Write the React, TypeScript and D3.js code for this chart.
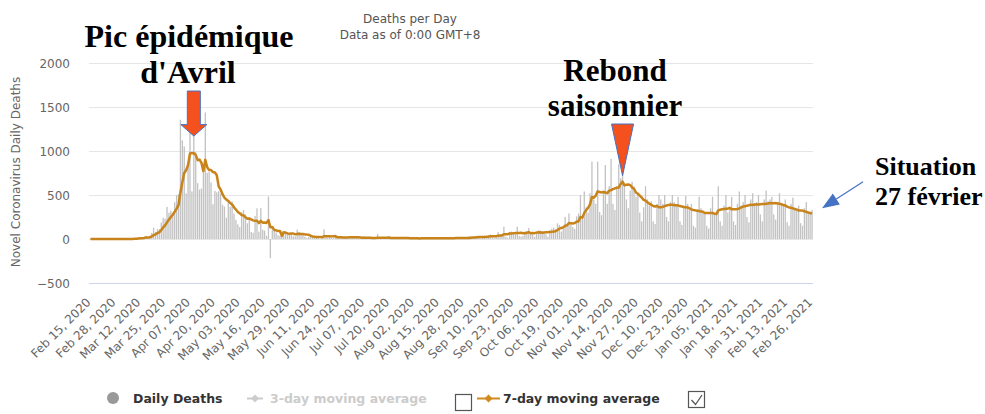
import React from "react";
import * as d3 from "d3";

// Daily deaths, Feb 15 2020 -> Feb 26 2021 (one value per day)
const feb2020 = [1, 0, 0, 0, 0, 0, 0, 0, 0, 0, 0, 1, 0, 0, 0];
const mar2020 = [0, 1, 0, 1, 0, 2, 0, 3, 9, 11, 15, 13, 18, 12, 36, 21, 27, 69, 128, 78, 112, 112, 186, 240, 231, 365, 299, 319, 292, 418, 499];
const apr2020 = [509, 1355, 1120, 1053, 518, 833, 1417, 541, 1341, 987, 635, 561, 574, 762, 1438, 753, 761, 642, 395, 547, 531, 544, 516, 389, 369, 242, 437, 367, 427, 289];
const may2020 = [218, 166, 135, 306, 330, 278, 178, 243, 80, 70, 263, 348, 83, 351, 104, 96, 35, 483, -217, 110, 110, 74, 43, 35, 90, 83, 66, 52, 52, 57, 31];
const jun2020 = [31, 107, 81, 44, 46, 27, 13, 24, 23, 27, 28, 25, 24, 0, 10, 111, 28, 14, 31, 15, 10, 21, 11, 29, 20, 11, 12, 21, 30, 24];
const jul2020 = [18, 14, 16, 25, 0, 0, 32, 14, 13, 25, 0, 0, 0, 57, 7, 18, 14, 0, 0, 28, 14, 13, 20, 14, 0, 0, 25, 14, 16, 11, 0];
const aug2020 = [0, 0, 15, 10, 12, 13, 0, 0, 0, 17, 14, 16, 16, 0, 0, 0, 20, 17, 16, 15, 0, 0, 0, 25, 15, 19, 20, 0, 0, 0, 35];
const sep2020 = [30, 27, 31, 25, 12, 8, 25, 40, 33, 45, 51, 17, 10, 30, 80, 46, 52, 140, 26, 12, 81, 85, 52, 78, 140, 36, 28, 36, 85, 90];
const oct2020 = [125, 58, 49, 24, 80, 100, 95, 90, 85, 54, 26, 100, 117, 130, 110, 178, 160, 85, 146, 250, 163, 290, 165, 137, 116, 257, 290, 500, 235, 540, 360];
const nov2020 = [300, 520, 880, 450, 400, 880, 306, 271, 551, 840, 400, 600, 910, 400, 330, 600, 850, 690, 780, 620, 450, 350, 550, 650, 600, 480, 520, 300, 200, 360];
const dec2020 = [600, 450, 380, 430, 200, 170, 400, 500, 450, 400, 500, 250, 200, 420, 500, 420, 400, 480, 200, 160, 380, 490, 400, 330, 400, 150, 130, 340, 480, 350, 320];
const jan2021 = [300, 150, 120, 350, 480, 300, 280, 600, 200, 150, 380, 500, 300, 350, 480, 200, 160, 400, 540, 380, 420, 500, 250, 190, 450, 520, 410, 420, 500, 280, 200];
const feb2021 = [450, 550, 430, 450, 480, 280, 220, 420, 520, 400, 380, 450, 190, 150, 400, 470, 350, 330, 380, 180, 150, 350, 420, 300, 290, 330];

const dailyDeaths = [
  ...feb2020, ...mar2020, ...apr2020, ...may2020, ...jun2020, ...jul2020,
  ...aug2020, ...sep2020, ...oct2020, ...nov2020, ...dec2020, ...jan2021, ...feb2021,
];

const yTicks = [-500, 0, 500, 1000, 1500, 2000];
const tickLabels = [
  "Feb 15, 2020", "Feb 28, 2020", "Mar 12, 2020", "Mar 25, 2020", "Apr 07, 2020", "Apr 20, 2020",
  "May 03, 2020", "May 16, 2020", "May 29, 2020", "Jun 11, 2020", "Jun 24, 2020", "Jul 07, 2020",
  "Jul 20, 2020", "Aug 02, 2020", "Aug 15, 2020", "Aug 28, 2020", "Sep 10, 2020", "Sep 23, 2020",
  "Oct 06, 2020", "Oct 19, 2020", "Nov 01, 2020", "Nov 14, 2020", "Nov 27, 2020", "Dec 10, 2020",
  "Dec 23, 2020", "Jan 05, 2021", "Jan 18, 2021", "Jan 31, 2021", "Feb 13, 2021", "Feb 26, 2021",
];
const tickStepDays = 13;

const SANS = "'DejaVu Sans', Verdana, sans-serif";
const SERIF = "'Liberation Serif', 'Times New Roman', serif";

export default function App() {
  const W = 985;
  const H = 414;
  const start = new Date(2020, 1, 15);
  const dates = dailyDeaths.map((_, i) => d3.timeDay.offset(start, i));
  const x = d3
    .scaleTime()
    .domain([d3.timeHour.offset(start, -12), d3.timeHour.offset(dates[dates.length - 1], 12)])
    .range([89.5, 813]);
  const y = d3.scaleLinear().domain([-500, 2000]).range([283, 63]);

  const ma7 = dailyDeaths.map((_, i) => d3.mean(dailyDeaths.slice(Math.max(0, i - 6), i + 1)) as number);
  const line = d3
    .line<number>()
    .x((_, i) => x(dates[i]))
    .y((d) => y(d))
    .curve(d3.curveLinear);

  const barW = 1.3;

  // annotation anchors
  const peakX = x(new Date(2020, 3, 9));
  const rebondX = x(new Date(2020, 10, 19));
  const lastX = x(dates[dates.length - 1]);

  // blue arrow geometry
  const tip: [number, number] = [lastX + 10, y(350)];
  const tail: [number, number] = [lastX + 51, y(650)];
  const dx = tail[0] - tip[0];
  const dy = tail[1] - tip[1];
  const len = Math.hypot(dx, dy);
  const ux = dx / len;
  const uy = dy / len;
  const hl = 17;
  const hw = 6.5;
  const bx = tip[0] + ux * hl;
  const by = tip[1] + uy * hl;

  return (
    <svg width={W} height={H} style={{ position: "absolute", left: 0, top: 0, background: "#fff" }}>
      {/* title */}
      <text x={410} y={23} textAnchor="middle" fontFamily={SANS} fontSize={12} fill="#555">
        Deaths per Day
      </text>
      <text x={410} y={39} textAnchor="middle" fontFamily={SANS} fontSize={12} fill="#555">
        Data as of 0:00 GMT+8
      </text>

      {/* grid */}
      {yTicks.map((t) => (
        <line
          key={t}
          x1={89}
          x2={813}
          y1={Math.round(y(t)) + 0.5}
          y2={Math.round(y(t)) + 0.5}
          stroke={t === -500 ? "#ccd6eb" : "#e6e6e6"}
          strokeWidth={1}
        />
      ))}
      {yTicks.map((t) => (
        <text key={"l" + t} x={70} y={y(t) + 4.5} textAnchor="end" fontFamily={SANS} fontSize={12} fill="#666">
          {t < 0 ? "\u2212" + Math.abs(t) : String(t)}
        </text>
      ))}
      <text
        transform={`translate(20,172) rotate(-90)`}
        textAnchor="middle"
        fontFamily={SANS}
        fontSize={12}
        fill="#666"
      >
        Novel Coronavirus Daily Deaths
      </text>

      {/* bars */}
      {dailyDeaths.map((v, i) => {
        const y0 = y(0);
        const yv = y(v);
        return (
          <rect
            key={i}
            x={x(dates[i]) - barW / 2}
            y={Math.min(y0, yv)}
            width={barW}
            height={Math.max(0.01, Math.abs(yv - y0))}
            fill="#c2c2c2"
          />
        );
      })}

      {/* 7-day moving average */}
      <path d={line(ma7) || ""} fill="none" stroke="#c8841a" strokeWidth={2.5} strokeLinejoin="round" />

      {/* x labels */}
      {tickLabels.map((lab, k) => {
        const xt = x(d3.timeDay.offset(start, k * tickStepDays));
        return (
          <text
            key={lab}
            transform={`translate(${xt + 1},${303}) rotate(-45)`}
            textAnchor="end"
            fontFamily={SANS}
            fontSize={12}
            fill="#666"
          >
            {lab}
          </text>
        );
      })}

      {/* legend */}
      <circle cx={113} cy={398} r={6} fill="#999" />
      <text x={133} y={403} fontFamily={SANS} fontSize={12.5} fontWeight="bold" fill="#333">
        Daily Deaths
      </text>
      <line x1={247} x2={263} y1={398.5} y2={398.5} stroke="#ccc" strokeWidth={2} />
      <path d="M255,394.5 L259,398.5 L255,402.5 L251,398.5 Z" fill="#ccc" />
      <text x={270} y={403} fontFamily={SANS} fontSize={12.5} fontWeight="bold" fill="#ccc">
        3-day moving average
      </text>
      <rect x={455.5} y={394.5} width={16} height={16} fill="#fff" stroke="#555" strokeWidth={1.2} />
      <line x1={477} x2={500} y1={398.5} y2={398.5} stroke="#d08a1e" strokeWidth={2} />
      <path d="M488.5,394.5 L492.5,398.5 L488.5,402.5 L484.5,398.5 Z" fill="#d08a1e" />
      <text x={503} y={403} fontFamily={SANS} fontSize={12.5} fontWeight="bold" fill="#333">
        7-day moving average
      </text>
      <rect x={688.5} y={391.5} width={16} height={16} fill="#fff" stroke="#555" strokeWidth={1.2} />
      <path d="M691.5,400 L695.5,404.5 L702,395" fill="none" stroke="#555" strokeWidth={1.3} />

      {/* annotations */}
      <text x={189} y={47} textAnchor="middle" fontFamily={SERIF} fontWeight="bold" fontSize={32} fill="#000">
        Pic épidémique
      </text>
      <text x={188} y={83} textAnchor="middle" fontFamily={SERIF} fontWeight="bold" fontSize={32} fill="#000">
        d'Avril
      </text>
      <path
        d={`M${peakX - 6.5},91 L${peakX + 6.5},91 L${peakX + 6.5},${y(1300)} L${peakX + 13},${y(1300)} L${peakX},${y(1170)} L${peakX - 13},${y(1300)} L${peakX - 6.5},${y(1300)} Z`}
        fill="#f4511e"
        stroke="#4472c4"
        strokeWidth={1}
      />
      <text x={615} y={81} textAnchor="middle" fontFamily={SERIF} fontWeight="bold" fontSize={31} fill="#000">
        Rebond
      </text>
      <text x={615} y={116} textAnchor="middle" fontFamily={SERIF} fontWeight="bold" fontSize={31} fill="#000">
        saisonnier
      </text>
      <path
        d={`M${rebondX - 11},124 L${rebondX + 11},124 L${rebondX},${y(720)} Z`}
        fill="#f4511e"
        stroke="#4472c4"
        strokeWidth={1}
      />
      <text x={875} y={175} fontFamily={SERIF} fontWeight="bold" fontSize={26} fill="#000">
        Situation
      </text>
      <text x={875} y={205} fontFamily={SERIF} fontWeight="bold" fontSize={26} fill="#000">
        27 février
      </text>
      <line x1={tail[0]} y1={tail[1]} x2={bx} y2={by} stroke="#4472c4" strokeWidth={1.2} />
      <path
        d={`M${tip[0]},${tip[1]} L${bx - uy * hw},${by + ux * hw} L${bx + uy * hw},${by - ux * hw} Z`}
        fill="#4472c4"
      />
    </svg>
  );
}
